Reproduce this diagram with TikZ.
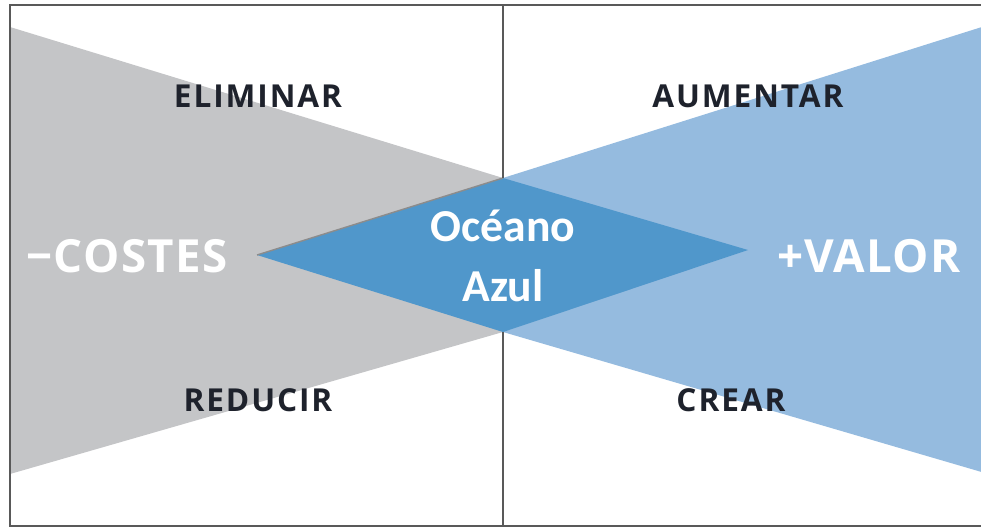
\documentclass[tikz,border=0pt]{standalone}
\usepackage{fontspec}
\setmainfont{Open Sans}
\newfontfamily\calfont{Carlito}
\newfontfamily\spacedfont[LetterSpace=6]{Open Sans}
\newfontfamily\sidefont[LetterSpace=3]{Open Sans}
\definecolor{costgray}{HTML}{C4C5C7}
\definecolor{valueblue}{HTML}{95BBDF}
\definecolor{oceanblue}{HTML}{5097CB}
\definecolor{labeltext}{HTML}{1E222C}

\begin{document}
\begin{tikzpicture}[x=0.02cm,y=-0.02cm,
	action/.style={font=\spacedfont\bfseries\fontsize{18}{20}\selectfont, text=labeltext},
	side/.style={font=\sidefont\bfseries\fontsize{26}{28}\selectfont, text=white},
	frame/.style={draw=black!65, line width=1.1pt}]
	\useasboundingbox (0,0) rectangle (981,528);
	% corners of the shapes
	\coordinate (top) at (503,178);
	\coordinate (bottom) at (503,332);
	\coordinate (left) at (257,255);
	\coordinate (right) at (748,250);
	% grey and blue wedges
	\fill[costgray] (10,27) -- (top) -- (bottom) -- (10,474) -- cycle;
	\fill[valueblue] (top) -- (985,26) -- (985,473) -- (bottom) -- cycle;
	\fill[oceanblue] (left) -- (top) -- (right) -- (bottom) -- cycle;
	\draw[black!45, line width=0.8pt] (left) -- (top);
	% frame and divider
	\draw[frame] (990,5) -- (10,5) -- (10,526) -- (990,526);
	\draw[frame] (503,5) -- (top);
	\draw[frame] (bottom) -- (503,526);
	% labels
	\node[action] (eliminar) at (258,96) {ELIMINAR};
	\node[action] (aumentar) at (748,96) {AUMENTAR};
	\node[action] (reducir) at (258,400) {REDUCIR};
	\node[action] (crear) at (731,400) {CREAR};
	\node[side] (costes) at (127,256) {\textminus COSTES};
	\node[side] (valor) at (869,256) {+VALOR};
	\node[align=center, text=white, font=\calfont\bfseries\fontsize{26}{34}\selectfont] (oceano) at (503,256) {Océano\\Azul};
\end{tikzpicture}
\end{document}
